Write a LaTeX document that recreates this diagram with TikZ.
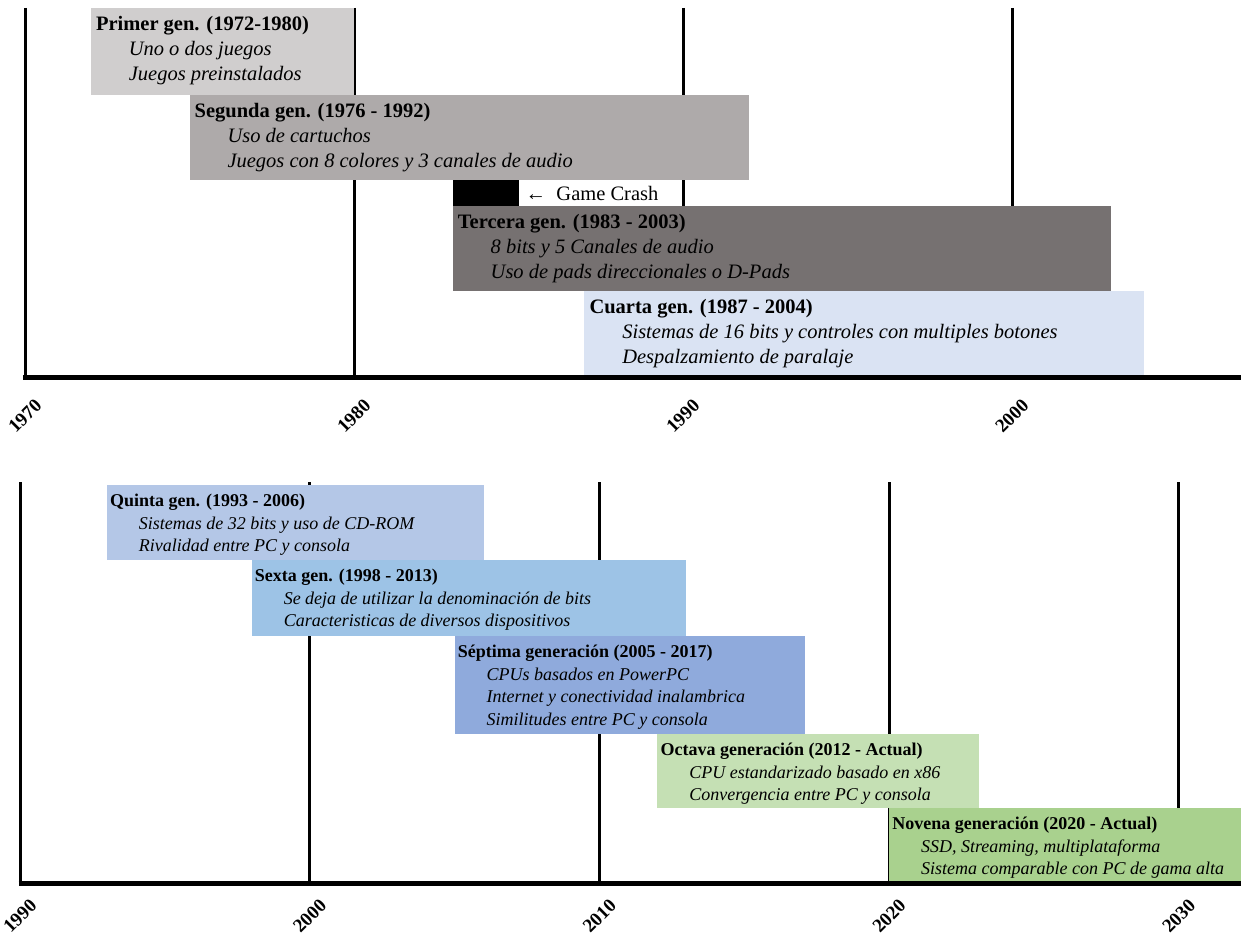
\documentclass[tikz,border=0pt]{standalone}
\usepackage{fontspec}
\setmainfont{Liberation Serif}
\usepackage{tikz}
\usepackage{xcolor}

\definecolor{genone}{HTML}{D0CECE}
\definecolor{gentwo}{HTML}{AEAAAA}
\definecolor{genthree}{HTML}{767171}
\definecolor{genfour}{HTML}{DAE3F3}
\definecolor{genfive}{HTML}{B4C7E7}
\definecolor{gensix}{HTML}{9DC3E6}
\definecolor{genseven}{HTML}{8FAADC}
\definecolor{geneight}{HTML}{C5E0B4}
\definecolor{gennine}{HTML}{A9D18E}

\newcommand{\itm}[1]{\hspace*{1.6em}\textit{#1}}

\tikzset{
    gentop/.style={anchor=north west, align=left, inner xsep=5pt, inner ysep=8pt, font=\fontsize{20.5}{25}\selectfont},
    genbot/.style={anchor=north west, align=left, inner xsep=3pt, inner ysep=9pt, font=\fontsize{18}{22.5}\selectfont},
    yearlbl/.style={rotate=45, inner sep=1pt, font=\bfseries\fontsize{19}{19}\selectfont},
    gridline/.style={line width=3pt},
    axisline/.style={line width=5pt}
}

\begin{document}
\begin{tikzpicture}[x=1pt,y=-1pt]
                    \useasboundingbox (0,0) rectangle (1241,936);
                    % upper timeline, one unit = one year from 1970
                    \begin{scope}[xshift=25pt,x=32.9pt]
                    \foreach \d in {0,10,20,30}
                        \draw[gridline] (\d,8) -- (\d,377);
                    % generations
                    \fill[genone] (2,8) rectangle (10,95);
                    \node[gentop] (primer) at (2,8) {\textbf{Primer gen. (1972-1980)}\\ \itm{Uno o dos juegos}\\ \itm{Juegos preinstalados}};
                    \fill[gentwo] (5,95) rectangle (22,180);
                    \node[gentop] (segunda) at (5,95) {\textbf{Segunda gen. (1976 - 1992)}\\ \itm{Uso de cartuchos}\\ \itm{Juegos con 8 colores y 3 canales de audio}};
                    \fill[black] (13,180) rectangle (15,206);
                    \node[anchor=west, inner sep=0pt, xshift=7pt, font=\fontsize{20.5}{25}\selectfont] (crash) at (15,193) {←\ \ Game Crash};
                    \fill[genthree] (13,206) rectangle (33,291);
                    \node[gentop] (tercera) at (13,206) {\textbf{Tercera gen. (1983 - 2003)}\\ \itm{8 bits y 5 Canales de audio}\\ \itm{Uso de pads direccionales o D-Pads}};
                    \fill[genfour] (17,291) rectangle (34,376);
                    \node[gentop] (cuarta) at (17,291) {\textbf{Cuarta gen. (1987 - 2004)}\\ \itm{Sistemas de 16 bits y controles con multiples botones}\\ \itm{Despalzamiento de paralaje}};
                    % axis and years
                    \draw[axisline] (-0.05,377) -- (37,377);
                    \foreach \d/\yr in {0/1970,10/1980,20/1990,30/2000}
                        \node[yearlbl] (t\yr) at (\d,416) {\yr};
                    \end{scope}
                    % lower timeline, one unit = one year from 1990
                    \begin{scope}[xshift=20pt,x=28.97pt]
                    \foreach \d in {0,10,20,30,40}
                        \draw[gridline] (\d,482) -- (\d,883);
                    % generations
                    \fill[genfive] (3,485) rectangle (16,560);
                    \node[genbot] (quinta) at (3,485) {\textbf{Quinta gen. (1993 - 2006)}\\ \itm{Sistemas de 32 bits y uso de CD-ROM}\\ \itm{Rivalidad entre PC y consola}};
                    \fill[gensix] (8,560) rectangle (23,636);
                    \node[genbot] (sexta) at (8,560) {\textbf{Sexta gen. (1998 - 2013)}\\ \itm{Se deja de utilizar la denominación de bits}\\ \itm{Caracteristicas de diversos dispositivos}};
                    \fill[genseven] (15,636) rectangle (27.1,734);
                    \node[genbot] (septima) at (15,636) {\textbf{Séptima generación (2005 - 2017)}\\ \itm{CPUs basados en PowerPC}\\ \itm{Internet y conectividad inalambrica}\\ \itm{Similitudes entre PC y consola}};
                    \fill[geneight] (22,734) rectangle (33.1,808);
                    \node[genbot] (octava) at (22,734) {\textbf{Octava generación (2012 - Actual)}\\ \itm{CPU estandarizado basado en x86}\\ \itm{Convergencia entre PC y consola}};
                    \fill[gennine] (30,808) rectangle (42.15,883);
                    \node[genbot] (novena) at (30,808) {\textbf{Novena generación (2020 - Actual)}\\ \itm{SSD, Streaming, multiplataforma}\\ \itm{Sistema comparable con PC de gama alta}};
                    % axis and years
                    \draw[axisline] (-0.05,883) -- (42.15,883);
                    \foreach \d/\yr in {0/1990,10/2000,20/2010,30/2020,40/2030}
                        \node[yearlbl] (b\yr) at (\d,916) {\yr};
                    \end{scope}
                \end{tikzpicture}
\end{document}
